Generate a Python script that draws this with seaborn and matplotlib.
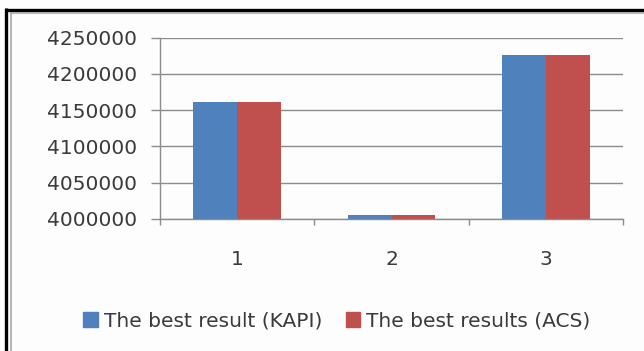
import matplotlib
matplotlib.use("Agg")
import matplotlib.pyplot as plt
from matplotlib.lines import Line2D
from matplotlib.ticker import FixedLocator
import seaborn as sns
import pandas as pd

# Data
categories = ["1", "2", "3"]
kapi = [4162000, 4005000, 4226000]
acs = [4162000, 4005000, 4226000]
series_names = ["The best result (KAPI)", "The best results (ACS)"]
y_ticks = [4000000, 4050000, 4100000, 4150000, 4200000, 4250000]

df = pd.DataFrame({
    "run": categories * 2,
    "value": kapi + acs,
    "series": [series_names[0]] * len(categories) + [series_names[1]] * len(categories),
})

sns.set_theme(style="white")
plt.rcParams["font.family"] = ["DejaVu Sans"]

W, H = 644, 351
fig = plt.figure(figsize=(W / 100, H / 100), dpi=100)
fig.patch.set_facecolor("#fdfdfd")
ax = fig.add_axes([160 / W, 1 - 219 / H, (623 - 160) / W, (219 - 37.7) / H])
ax.set_facecolor("#fdfdfd")

palette = {series_names[0]: "#4F81BD", series_names[1]: "#C0504D"}
sns.barplot(data=df, x="run", y="value", hue="series", palette=palette,
            width=0.57, saturation=1, ax=ax, legend=False)
for p in ax.patches:
    p.set_edgecolor("none")

ax.set_xlim(-0.5, 2.5)
ax.set_ylim(y_ticks[0], y_ticks[-1])
ax.set_yticks(y_ticks)
ax.set_yticklabels([str(v) for v in y_ticks])
ax.set_xlabel("")
ax.set_ylabel("")

grid_c = "#8c8c8c"
ax.yaxis.grid(True, color=grid_c, linewidth=1.0)
ax.set_axisbelow(True)
for s in ["top", "right"]:
    ax.spines[s].set_visible(False)
for s in ["left", "bottom"]:
    ax.spines[s].set_color(grid_c)
    ax.spines[s].set_linewidth(1.0)

text_c = "#3a3a3a"
ax.tick_params(axis="y", which="major", direction="out", length=6.5, width=1.0,
               color=grid_c, pad=10, labelsize=14.5, labelcolor=text_c, left=True)
ax.tick_params(axis="x", which="major", length=0, pad=22, labelsize=14.5,
               labelcolor=text_c)
ax.xaxis.set_minor_locator(FixedLocator([-0.5, 0.5, 1.5, 2.5]))
ax.tick_params(axis="x", which="minor", direction="out", length=4.5, width=1.0,
               color=grid_c, bottom=True)

handles = [plt.Rectangle((0, 0), 1, 1, color=palette[n]) for n in series_names]
fig.legend(handles, series_names, loc="center", bbox_to_anchor=(337 / W, 1 - 321 / H),
           ncol=2, frameon=False, fontsize=14.5, handlelength=0.7, handleheight=0.7,
           handletextpad=0.3, columnspacing=1.2, labelcolor=text_c)

# Frame around the chart: outer black edge and inner gray edge
def px_line(x0, y0, x1, y1, color, lw):
    fig.add_artist(Line2D([x0 / W, x1 / W], [1 - y0 / H, 1 - y1 / H],
                          transform=fig.transFigure, color=color, linewidth=lw,
                          solid_capstyle="butt"))

px_line(5, 9.5, W, 9.5, "black", 2.4)
px_line(6, 8, 6, H, "black", 2.4)
px_line(10, 12.5, W, 12.5, "#a8a8a8", 1.2)
px_line(11, 12, 11, H, "#a8a8a8", 1.2)

fig.savefig("out.png", dpi=100, facecolor=fig.get_facecolor())
